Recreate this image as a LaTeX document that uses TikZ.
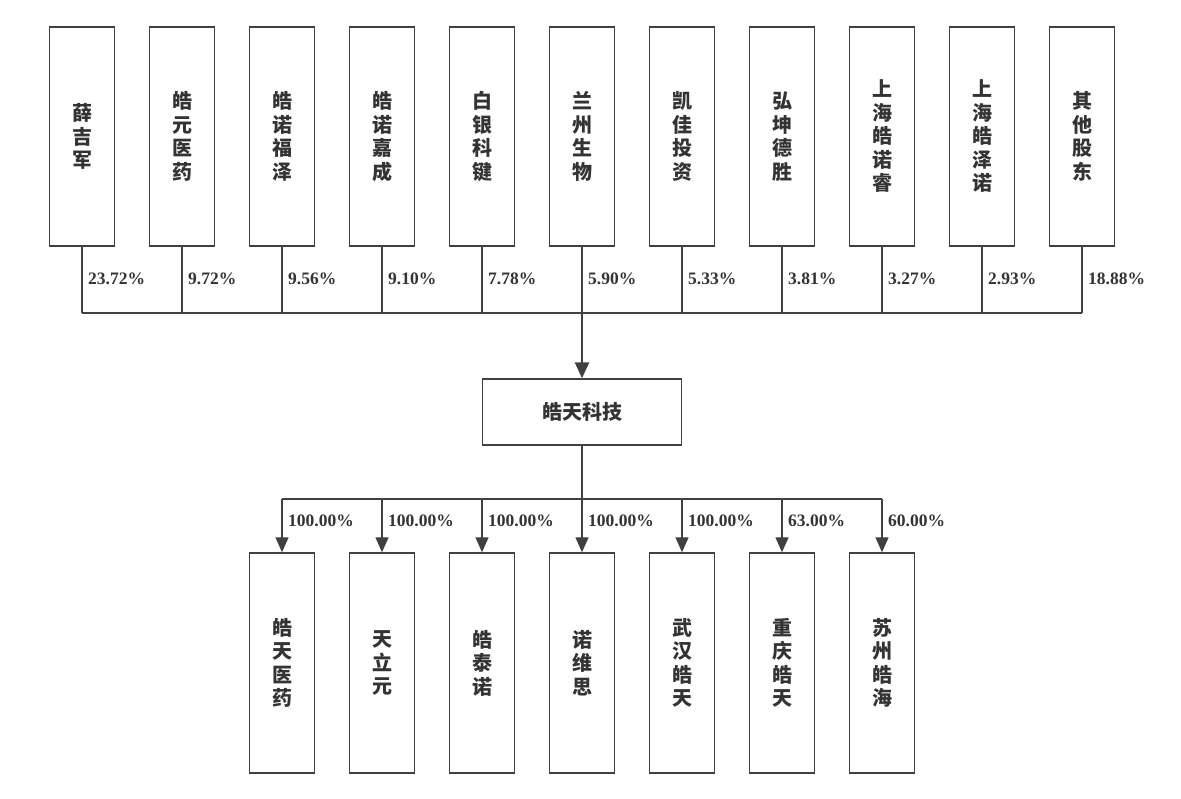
\documentclass[tikz,border=0pt]{standalone}
\usepackage{fontspec}
\setmainfont{Liberation Serif}
\newfontfamily\cjk{Noto Sans CJK SC}
\usetikzlibrary{arrows.meta}
\definecolor{frame}{HTML}{404040}
\definecolor{ink}{HTML}{333333}
\tikzset{
  holder/.style={draw=frame,line width=1.4pt,minimum width=65pt,minimum height=219pt,inner sep=0pt,
    align=center,font=\cjk\bfseries\fontsize{20}{23.5}\selectfont,text=ink},
  firm/.style={holder,minimum height=220pt},
  core/.style={draw=frame,line width=1.4pt,minimum width=199pt,minimum height=66pt,inner sep=0pt,
    font=\cjk\bfseries\fontsize{20}{23.5}\selectfont,text=ink},
  link/.style={draw=frame,line width=1.3pt},
  share/.style={link,-{Triangle[width=13pt,length=15pt]}},
  pct/.style={right,inner sep=5.5pt,font=\bfseries\fontsize{17.5}{19}\selectfont,text=ink},
}
\begin{document}
\begin{tikzpicture}[x=1pt,y=-1pt]
  \useasboundingbox (0,0) rectangle (1181,799);
  \coordinate (bus) at (582,313);
  \coordinate (fork) at (582,499);

  \foreach \name/\p [count=\i from 0] in {薛\\吉\\军/23.72\%,皓\\元\\医\\药/9.72\%,皓\\诺\\福\\泽/9.56\%,
      皓\\诺\\嘉\\成/9.10\%,白\\银\\科\\键/7.78\%,兰\\州\\生\\物/5.90\%,凯\\佳\\投\\资/5.33\%,
      弘\\坤\\德\\胜/3.81\%,上\\海\\皓\\诺\\睿/3.27\%,上\\海\\皓\\泽\\诺/2.93\%,其\\他\\股\\东/18.88\%}{
    \node[holder] (h\i) at (82+100*\i,136.5) {\name};
    \draw[link] (h\i.south) -- (h\i.south |- bus) node[pct,pos=0.48] {\p};
  }
  \draw[link] (h0.south |- bus) -- (h10.south |- bus);

  \node[core] (ht) at (582,412) {皓天科技};
  \draw[link,line width=2.6pt,-{Triangle[width=14pt,length=16pt]}] (bus) -- (ht.north);

  \foreach \name/\p [count=\i from 0] in {皓\\天\\医\\药/100.00\%,天\\立\\元/100.00\%,皓\\泰\\诺/100.00\%,
      诺\\维\\思/100.00\%,武\\汉\\皓\\天/100.00\%,重\\庆\\皓\\天/63.00\%,苏\\州\\皓\\海/60.00\%}{
    \node[firm] (s\i) at (282+100*\i,663) {\name};
    \draw[share] (s\i.north |- fork) -- (s\i.north) node[pct,pos=0.4] {\p};
  }
  \draw[link] (ht.south) -- (fork);
  \draw[link] (s0.north |- fork) -- (s6.north |- fork);
\end{tikzpicture}
\end{document}
